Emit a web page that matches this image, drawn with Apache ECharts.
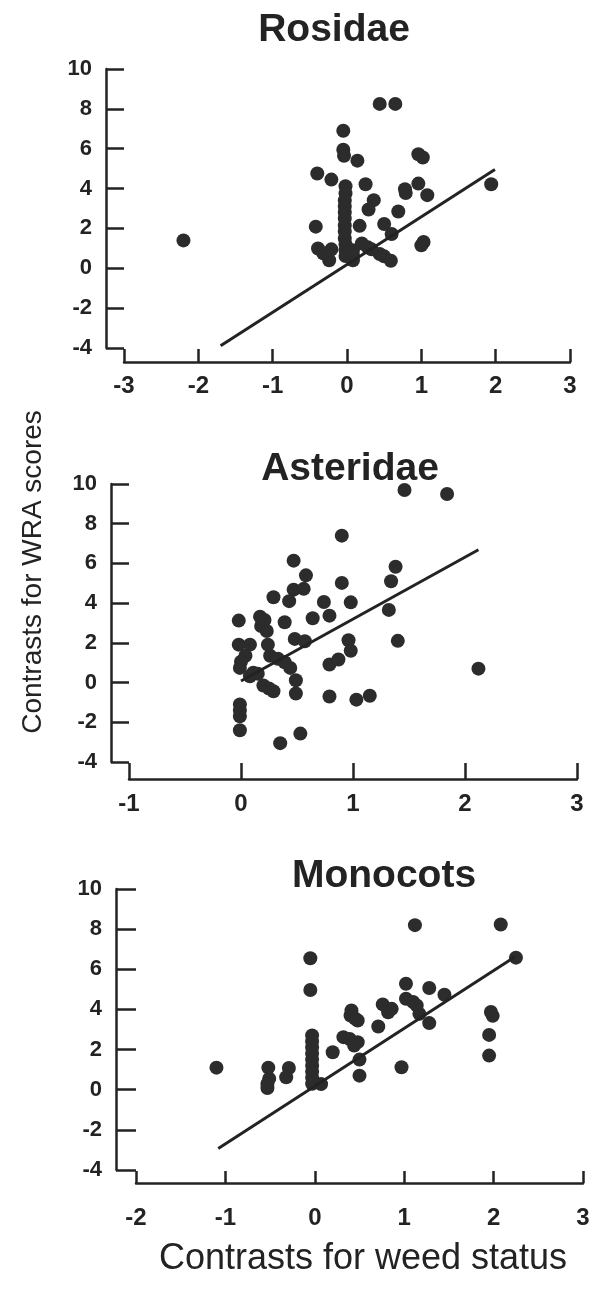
<!DOCTYPE html>
<html>
<head>
<meta charset="utf-8">
<script src="https://cdn.jsdelivr.net/npm/echarts@6/dist/echarts.min.js"></script>
<style>
  html, body { margin: 0; padding: 0; background: #fff; }
  #chart { width: 596px; height: 1294px; }
</style>
</head>
<body>
<div id="chart"></div>
<script>
// panel names
var panelNames = ['Rosidae', 'Asteridae', 'Monocots'];

// Rosidae contrasts [weed status, WRA score]
var rosidaePoints = [
  [-2.2, 1.4],
  [0.44, 8.25], [0.65, 8.25],
  [-0.05, 6.9], [-0.05, 5.95], [-0.04, 5.65], [0.14, 5.4],
  [0.96, 5.72], [1.02, 5.56],
  [-0.40, 4.76], [-0.21, 4.45], [-0.02, 4.12], [0.25, 4.22],
  [-0.02, 3.75], [-0.03, 3.4], [-0.03, 3.1], [-0.03, 2.8], [-0.03, 2.5], [-0.03, 2.15],
  [-0.03, 1.85], [-0.03, 1.5], [-0.02, 1.2], [-0.02, 0.9], [-0.02, 0.62],
  [0.36, 3.42], [0.29, 2.95], [0.69, 2.85],
  [0.78, 3.97], [0.79, 3.78], [0.96, 4.25], [1.08, 3.67],
  [-0.42, 2.09], [0.17, 2.13], [0.50, 2.22], [0.60, 1.72],
  [1.0, 1.15], [1.03, 1.32],
  [-0.39, 0.99], [-0.21, 0.95], [-0.24, 0.4], [-0.32, 0.75],
  [0.08, 0.9], [0.08, 0.4], [0.08, 0.65], [0.20, 1.25], [0.28, 1.05],
  [0.33, 0.95], [0.44, 0.72], [0.50, 0.6], [0.59, 0.38],
  [1.94, 4.22]
];

// Asteridae contrasts
var asteridaePoints = [
  [1.46, 9.7], [1.84, 9.5], [0.90, 7.4], [0.47, 6.14], [0.58, 5.4],
  [0.47, 4.68], [0.56, 4.72], [0.90, 5.02], [0.29, 4.3], [0.43, 4.1],
  [0.74, 4.06], [0.98, 4.04], [0.79, 3.37], [0.64, 3.24], [0.39, 3.04],
  [1.38, 5.83], [1.34, 5.1], [1.32, 3.66], [1.40, 2.1], [2.12, 0.7],
  [-0.02, 3.12], [0.17, 3.32], [0.21, 3.15], [0.18, 2.85], [0.23, 2.6],
  [0.48, 2.2], [0.57, 2.08], [0.96, 2.13], [0.98, 1.6], [0.79, 0.91], [0.87, 1.16],
  [-0.02, 1.91], [0.08, 1.91], [0.04, 1.35], [0.0, 1.05], [-0.01, 0.74],
  [0.08, 0.32], [0.11, 0.5],
  [0.24, 1.91], [0.26, 1.35], [0.33, 1.2], [0.39, 1.02], [0.44, 0.74],
  [0.49, 0.12], [0.49, -0.55], [0.2, -0.15], [0.25, -0.3], [0.29, -0.44], [0.15, 0.45],
  [0.79, -0.7], [1.03, -0.86], [1.15, -0.66],
  [-0.01, -1.1], [-0.01, -1.4], [-0.01, -1.7], [-0.01, -2.4],
  [0.53, -2.57], [0.35, -3.05]
];

// Monocots contrasts
var monocotPoints = [
  [-1.10, 1.1],
  [-0.52, 1.1], [-0.51, 0.55], [-0.53, 0.3], [-0.53, 0.08],
  [-0.29, 1.08], [-0.32, 0.62],
  [-0.05, 6.55], [-0.05, 4.97],
  [-0.03, 2.7], [-0.03, 2.4], [-0.03, 2.1], [-0.03, 1.8], [-0.03, 1.5],
  [-0.03, 1.2], [-0.03, 0.9], [-0.03, 0.6], [-0.03, 0.3],
  [0.07, 0.28], [0.2, 1.87],
  [0.41, 3.95], [0.45, 3.55], [0.48, 3.45], [0.40, 3.7],
  [0.32, 2.62], [0.39, 2.53], [0.48, 2.37], [0.44, 2.2],
  [0.5, 1.5], [0.5, 0.7], [0.71, 3.15],
  [0.76, 4.25], [0.86, 4.03], [0.82, 3.86],
  [1.02, 5.28], [1.28, 5.07], [1.45, 4.73],
  [1.02, 4.53], [1.1, 4.37], [1.14, 4.2],
  [1.17, 3.78], [1.28, 3.32], [0.97, 1.12],
  [1.12, 8.2], [2.02, 10.1], [2.08, 8.23], [2.25, 6.58],
  [1.97, 3.87], [1.99, 3.68], [1.95, 2.73], [1.95, 1.7]
];

// regression line end points
var rosidaeLine = [[-1.7, -3.89], [1.99, 4.96]];
var asteridaeLine = [[0, 0.08], [2.12, 6.69]];
var monocotLine = [[-1.08, -2.93], [2.24, 6.62]];

// axis ranges
var xRanges = [[-3, 3], [-1, 3], [-2, 3]];
var yRange = [-4, 10];

var allPoints = [rosidaePoints, asteridaePoints, monocotPoints];
var allLines = [rosidaeLine, asteridaeLine, monocotLine];

var font = 'Liberation Sans, Arial, Helvetica, sans-serif';
var ink = '#232323';

// layout of each panel
var grids = [
  { left: 124, top: 69, width: 446, height: 279 },
  { left: 129, top: 484, width: 448, height: 278 },
  { left: 136, top: 889, width: 447, height: 281 }
];
var yOffsets = [18, 18, 20];
var xOffsets = [14, 17, 13];
var xLabelMargins = [12, 13, 23];
var titlePos = [[334, 11], [350, 450], [384, 857]];

var myChart = echarts.init(document.getElementById('chart'));

var option = {
  animation: false,
  backgroundColor: '#fff',
  title: [],
  grid: [],
  xAxis: [],
  yAxis: [],
  series: [],
  graphic: [
    {
      type: 'text',
      x: 33,
      y: 572,
      rotation: Math.PI / 2,
      style: {
        text: 'Contrasts for WRA scores',
        font: '28px ' + font,
        fill: ink,
        align: 'center',
        verticalAlign: 'middle',
        textAlign: 'center',
        textVerticalAlign: 'middle'
      }
    },
    {
      type: 'text',
      x: 363,
      y: 1259,
      style: {
        text: 'Contrasts for weed status',
        font: '36px ' + font,
        fill: ink,
        align: 'center',
        verticalAlign: 'middle',
        textAlign: 'center',
        textVerticalAlign: 'middle'
      }
    }
  ]
};

for (var i = 0; i < 3; i++) {
  option.title.push({
    text: panelNames[i],
    left: titlePos[i][0],
    top: titlePos[i][1],
    textAlign: 'center',
    padding: 0,
    textStyle: { fontSize: 39, fontWeight: 'bold', fontFamily: font, color: ink }
  });
  option.grid.push(grids[i]);
  option.xAxis.push({
    type: 'value',
    gridIndex: i,
    min: xRanges[i][0],
    max: xRanges[i][1],
    interval: 1,
    offset: xOffsets[i],
    splitLine: { show: false },
    axisLine: { onZero: false, lineStyle: { color: ink, width: 2.5 } },
    axisTick: { inside: true, length: xOffsets[i] - 1, lineStyle: { color: ink, width: 2.5 } },
    axisLabel: { margin: xLabelMargins[i], fontSize: 24, fontWeight: 'bold', fontFamily: font, color: ink }
  });
  option.yAxis.push({
    type: 'value',
    gridIndex: i,
    min: yRange[0],
    max: yRange[1],
    interval: 2,
    offset: yOffsets[i],
    splitLine: { show: false },
    axisLine: { onZero: false, lineStyle: { color: ink, width: 2.5 } },
    axisTick: { inside: true, length: yOffsets[i], lineStyle: { color: ink, width: 2.5 } },
    axisLabel: { margin: 14, fontSize: 22, fontWeight: 'bold', fontFamily: font, color: ink }
  });
  option.series.push({
    type: 'scatter',
    xAxisIndex: i,
    yAxisIndex: i,
    symbolSize: 14,
    itemStyle: { color: '#2c2c2c', opacity: 1 },
    data: allPoints[i]
  });
  option.series.push({
    type: 'line',
    xAxisIndex: i,
    yAxisIndex: i,
    showSymbol: false,
    z: 3,
    lineStyle: { color: ink, width: 3 },
    data: allLines[i]
  });
}

myChart.setOption(option);
</script>
</body>
</html>
